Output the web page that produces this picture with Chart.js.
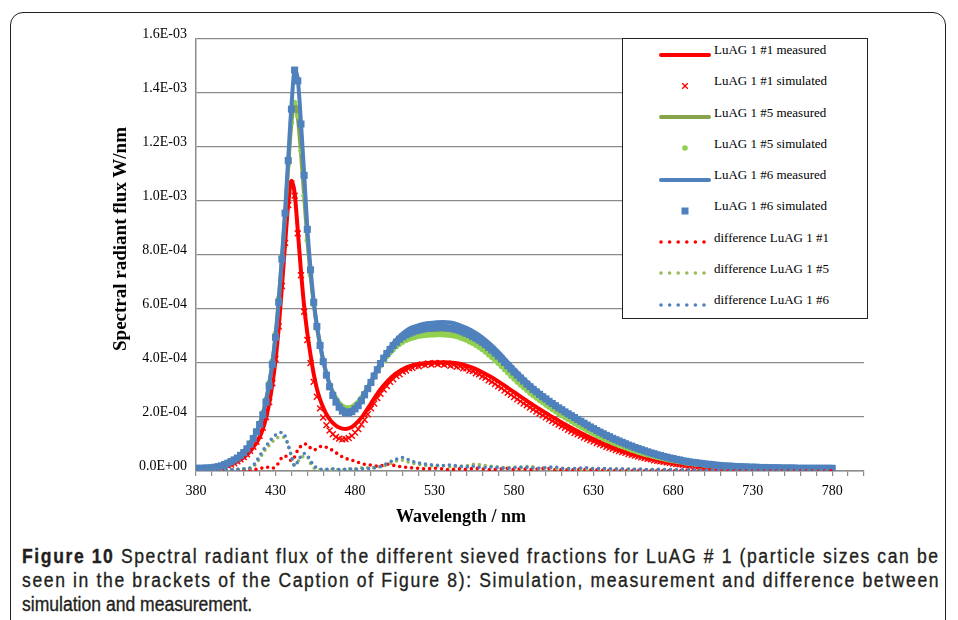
<!DOCTYPE html>
<html>
<head>
<meta charset="utf-8">
<script src="https://cdn.jsdelivr.net/npm/chart.js"></script>
<style>
  html, body { margin:0; padding:0; background:#fff; }
  body { width:958px; height:620px; position:relative; overflow:hidden; }
  #frame { position:absolute; left:10px; top:12px; width:936px; height:700px; box-sizing:border-box;
           border:1.4px solid #231f20; border-radius:13px; }
  #wrap { position:absolute; left:0; top:0; width:958px; height:540px; }
  #ytitle { position:absolute; left:120px; top:239px; transform:translate(-50%,-50%) rotate(-90deg);
            font:bold 19px "Liberation Serif", serif; color:#000; white-space:nowrap; }
  #xtitle { position:absolute; left:461px; top:516px; transform:translate(-50%,-50%);
            font:bold 18px "Liberation Serif", serif; color:#000; white-space:nowrap; }
  #legend { position:absolute; left:622px; top:38px; width:246px; height:281px; box-sizing:border-box;
            border:1.3px solid #222; background:#fff; }
  .lt { position:absolute; left:91px; font:13px "Liberation Serif", serif; color:#000; white-space:nowrap;
        transform:translateY(-50%); }
  .ls { position:absolute; left:35px; }
  #caption { position:absolute; left:22px; top:544px; width:1020px; font:19.5px "Liberation Sans", Arial, sans-serif;
             color:#231f20; -webkit-text-stroke:0.35px #231f20; transform:scaleX(0.9); transform-origin:0 0; }
  .cl { height:24px; line-height:24px; white-space:nowrap; }
  .cl span { display:inline-block; }
</style>
</head>
<body>
<div id="frame"></div>
<div id="wrap"><canvas id="c"></canvas></div>
<div id="ytitle">Spectral radiant flux W/nm</div>
<div id="xtitle">Wavelength / nm</div>
<div id="legend"></div>
<div id="caption">
  <div class="cl"><span class="fit"><b>Figure 10</b> Spectral radiant flux of the different sieved fractions for LuAG # 1 (particle sizes can be</span></div>
  <div class="cl"><span class="fit">seen in the brackets of the Caption of Figure 8): Simulation, measurement and difference between</span></div>
  <div class="cl"><span>simulation and measurement.</span></div>
</div>
<script>
// Values are spectral radiant flux in units of 1E-04 W/nm
const Y_UNIT = 1e-4;

// wavelengths (nm) for the measured curves and the differences
const wlMeasured = [380,385,390,395,400,405,410,415,
  420,422,424,426,428,430,432,434,436,438,440,442,444,446,448,450,452,454,456,458,460,462,464,466,468,470,472,474,476,478,480,
  485,490,495,500,505,510,515,520,525,530,535,540,545,550,555,560,565,570,575,580,
  585,590,595,600,605,610,615,620,625,630,635,640,645,650,655,660,665,670,675,680,
  685,690,695,700,705,710,715,720,725,730,735,740,745,750,755,760,765,770,775,780];

// wavelengths (nm) for the simulated points
const wlSimulated = [
  380,382,384,386,388,390,392,394,396,398, 400,402,404,406,408,410,412,414,416,418,
  420,422,424,426,428,430,432,434,436,438, 440,442,444,446,448,450,452,454,456,458,
  460,462,464,466,468,470,472,474,476,478, 480,482,484,486,488,490,492,494,496,498,
  500,502,504,506,508,510,512,514,516,518, 520,522,524,526,528,530,532,534,536,538,
  540,542,544,546,548,550,552,554,556,558, 560,562,564,566,568,570,572,574,576,578,
  580,582,584,586,588,590,592,594,596,598, 600,602,604,606,608,610,612,614,616,618,
  620,622,624,626,628,630,632,634,636,638, 640,642,644,646,648,650,652,654,656,658,
  660,662,664,666,668,670,672,674,676,678, 680,682,684,686,688,690,692,694,696,698,
  700,702,704,706,708,710,712,714,716,718, 720,722,724,726,728,730,732,734,736,738,
  740,742,744,746,748,750,752,754,756,758, 760,762,764,766,768,770,772,774,776,778, 780];

const luag1Measured = [0.05,0.06,0.08,0.12,0.2,0.32,0.5,0.8,
  1.25,1.55,1.95,2.5,3.2,4.1,5.3,6.8,8.4,9.9,10.75,10.3,8.9,7.4,6.1,5.1,4.3,3.6,3.05,2.65,2.35,2.1,1.92,1.78,1.68,1.61,1.57,1.56,1.58,1.63,1.72,
  2.05,2.5,2.95,3.3,3.58,3.77,3.89,3.96,4.0,4.02, 4.03,4.02,3.98,3.9,3.8,3.66,3.5,3.32,3.12,2.92,
  2.72,2.52,2.33,2.15,1.97,1.8,1.63,1.47,1.32,1.18, 1.05,0.93,0.82,0.72,0.63,0.55,0.47,0.41,0.35,0.3,
  0.26,0.22,0.19,0.16,0.14,0.12,0.1,0.09,0.08,0.08, 0.07,0.07,0.06,0.06,0.06,0.05,0.05,0.05,0.05,0.05];

const luag5Measured = [0.10,0.10,0.12,0.18,0.30,0.46,0.72,1.12,
  1.72,2.12,2.62,3.22,4.0,5.0,6.3,7.8,9.5,11.3,12.9,13.6,13.1,11.8,10.2,8.6,7.3,6.2,5.35,4.65,4.08,3.6,3.22,2.92,2.7,2.53,2.42,2.36,2.35,2.38,2.45,
  2.82,3.32,3.85,4.3,4.65,4.9,5.05,5.15,5.2,5.22, 5.22,5.19,5.11,4.99,4.83,4.63,4.39,4.11,3.81,3.51,
  3.23,2.96,2.72,2.49,2.28,2.08,1.89,1.72,1.55,1.39, 1.24,1.1,0.98,0.87,0.76,0.67,0.59,0.51,0.45,0.39,
  0.34,0.29,0.25,0.22,0.19,0.17,0.15,0.14,0.13,0.12, 0.11,0.11,0.1,0.1,0.1,0.1,0.09,0.09,0.09,0.09];

const luag6Measured = [0.10,0.10,0.12,0.18,0.30,0.45,0.70,1.10,
  1.70,2.10,2.60,3.20,4.00,5.00,6.30,7.90,9.60,11.6,13.5,14.8,14.5,12.9,11.0,9.0,7.5,6.3,5.4,4.7,4.1,3.6,3.2,2.9,2.65,2.45,2.32,2.25,2.24,2.28,2.36,
  2.75,3.3,3.9,4.4,4.8,5.1,5.3,5.4,5.47,5.5, 5.52,5.5,5.42,5.3,5.15,4.95,4.7,4.42,4.1,3.78,
  3.48,3.2,2.95,2.72,2.5,2.3,2.1,1.92,1.74,1.56, 1.4,1.25,1.12,1.0,0.88,0.78,0.68,0.6,0.52,0.45,
  0.39,0.34,0.3,0.26,0.23,0.2,0.18,0.16,0.15,0.14, 0.13,0.12,0.12,0.11,0.11,0.1,0.1,0.1,0.1,0.1];

const luag1Simulated = [
  0.05,0.05,0.06,0.06,0.07,0.08,0.09,0.11,0.13,0.16, 0.2,0.24,0.29,0.36,0.43,0.52,0.62,0.75,0.9,1.08,
  1.3,1.6,2.0,2.55,3.25,4.15,5.35,6.85,8.45,9.85, 10.65,10.2,8.8,7.25,5.9,4.85,4.0,3.3,2.75,2.32,
  1.98,1.7,1.5,1.36,1.26,1.2,1.17,1.18,1.22,1.3, 1.42,1.55,1.72,1.9,2.1,2.32,2.5,2.7,2.86,3.02,
  3.15,3.3,3.4,3.52,3.58,3.68,3.72,3.8,3.82,3.9, 3.88,3.95,3.92,3.98,3.94,4.0,3.95,3.99,3.93,3.97,
  3.9,3.93,3.86,3.88,3.8,3.8,3.72,3.7,3.62,3.58, 3.5,3.45,3.36,3.3,3.22,3.14,3.07,2.98,2.9,2.82,
  2.74,2.66,2.58,2.5,2.43,2.35,2.28,2.2,2.13,2.06, 1.99,1.92,1.85,1.79,1.72,1.66,1.6,1.53,1.47,1.41,
  1.36,1.3,1.24,1.19,1.14,1.09,1.04,0.99,0.95,0.9, 0.86,0.82,0.78,0.74,0.7,0.67,0.63,0.6,0.57,0.54,
  0.51,0.48,0.45,0.43,0.4,0.38,0.36,0.34,0.32,0.3, 0.28,0.26,0.25,0.23,0.22,0.2,0.19,0.18,0.17,0.16,
  0.15,0.14,0.13,0.12,0.12,0.11,0.1,0.1,0.09,0.09, 0.08,0.08,0.08,0.07,0.07,0.07,0.07,0.06,0.06,0.06,
  0.06,0.06,0.05,0.05,0.05,0.05,0.05,0.05,0.05,0.05, 0.05,0.05,0.05,0.05,0.04,0.04,0.04,0.04,0.04,0.04, 0.04];

const luag5Simulated = [
  0.10,0.10,0.11,0.11,0.12,0.13,0.15,0.17,0.2,0.25, 0.3,0.36,0.43,0.5,0.6,0.71,0.85,1.03,1.24,1.49,
  1.78,2.15,2.65,3.28,4.08,5.1,6.4,7.95,9.6,11.35, 12.9,13.65,13.15,11.85,10.2,8.55,7.25,6.15,5.3,4.62,
  4.05,3.58,3.2,2.9,2.67,2.5,2.39,2.33,2.32,2.36, 2.44,2.55,2.7,2.88,3.08,3.28,3.5,3.71,3.9,4.08,
  4.24,4.38,4.5,4.61,4.7,4.78,4.84,4.89,4.93,4.96, 4.99,5.01,5.03,5.04,5.05,5.05,5.06,5.06,5.05,5.04,
  5.03,5.01,4.98,4.94,4.9,4.85,4.79,4.73,4.66,4.58, 4.5,4.41,4.31,4.21,4.1,3.99,3.88,3.76,3.64,3.52,
  3.41,3.3,3.19,3.09,2.99,2.89,2.8,2.71,2.62,2.54, 2.45,2.37,2.29,2.21,2.13,2.06,1.98,1.91,1.84,1.77,
  1.7,1.63,1.57,1.5,1.44,1.38,1.32,1.26,1.2,1.15, 1.1,1.05,1.0,0.95,0.91,0.87,0.82,0.78,0.74,0.7,
  0.67,0.63,0.6,0.57,0.54,0.51,0.48,0.46,0.43,0.41, 0.39,0.37,0.35,0.33,0.31,0.29,0.28,0.26,0.25,0.24,
  0.22,0.21,0.2,0.19,0.18,0.17,0.16,0.16,0.15,0.15, 0.14,0.14,0.13,0.13,0.12,0.12,0.12,0.11,0.11,0.11,
  0.11,0.1,0.1,0.1,0.1,0.1,0.1,0.1,0.1,0.1, 0.1,0.09,0.09,0.09,0.09,0.09,0.09,0.09,0.09,0.09, 0.09];

const luag6Simulated = [
  0.10,0.10,0.10,0.11,0.11,0.12,0.14,0.16,0.19,0.24, 0.29,0.35,0.41,0.48,0.58,0.68,0.82,1.0,1.2,1.45,
  1.72,2.08,2.55,3.15,3.95,4.95,6.25,7.85,9.55,11.5, 13.4,14.85,14.45,12.85,10.95,8.95,7.45,6.25,5.35,4.65,
  4.05,3.55,3.12,2.8,2.55,2.36,2.22,2.16,2.15,2.2, 2.3,2.42,2.6,2.82,3.05,3.28,3.52,3.75,3.98,4.18,
  4.35,4.5,4.65,4.77,4.88,4.97,5.04,5.1,5.15,5.19, 5.22,5.25,5.27,5.29,5.3,5.3,5.31,5.32,5.31,5.3,
  5.29,5.27,5.24,5.2,5.15,5.1,5.05,4.98,4.92,4.85, 4.77,4.68,4.58,4.48,4.37,4.26,4.14,4.02,3.9,3.78,
  3.66,3.55,3.44,3.33,3.22,3.12,3.02,2.93,2.84,2.75, 2.67,2.58,2.5,2.42,2.34,2.27,2.19,2.12,2.05,1.98,
  1.91,1.84,1.77,1.7,1.63,1.57,1.5,1.44,1.38,1.32, 1.27,1.21,1.16,1.11,1.06,1.01,0.96,0.92,0.87,0.83,
  0.79,0.75,0.71,0.67,0.64,0.6,0.57,0.54,0.51,0.48, 0.46,0.43,0.41,0.38,0.36,0.34,0.32,0.31,0.29,0.28,
  0.26,0.25,0.24,0.22,0.21,0.2,0.19,0.18,0.18,0.17, 0.16,0.16,0.15,0.15,0.14,0.14,0.14,0.13,0.13,0.13,
  0.12,0.12,0.12,0.12,0.11,0.11,0.11,0.11,0.11,0.1, 0.1,0.1,0.1,0.1,0.1,0.1,0.1,0.1,0.1,0.1, 0.1];

const diffLuag1 = [0.01,0.01,0.02,0.02,0.03,0.04,0.05,0.06,
  0.08,0.12,0.15,0.12,0.1,0.18,0.3,0.5,0.55,0.5,0.38,0.52,0.78,0.92,1.0,0.98,0.85,0.78,0.82,0.9,0.92,0.88,0.82,0.76,0.68,0.6,0.52,0.47,0.43,0.4,0.36,
  0.26,0.22,0.17,0.25,0.2,0.15,0.12,0.1,0.08,0.1, 0.08,0.05,0.08,0.06,0.1,0.08,0.05,0.07,0.1,0.06,
  0.08,0.05,0.08,0.1,0.06,0.05,0.04,0.06,0.05,0.04, 0.04,0.03,0.03,0.03,0.03,0.02,0.02,0.02,0.02,0.02,
  0.02,0.02,0.02,0.02,0.02,0.01,0.01,0.01,0.01,0.01, 0.01,0.01,0.01,0.01,0.01,0.01,0.01,0.01,0.01,0.01];

const diffLuag5 = [0.02,0.02,0.03,0.04,0.05,0.06,0.08,0.12,
  0.45,0.65,0.82,0.95,1.08,1.18,1.25,1.26,1.2,0.95,0.55,0.22,0.35,0.48,0.55,0.52,0.28,0.12,0.06,0.04,0.03,0.04,0.05,0.04,0.06,0.05,0.04,0.06,0.08,0.07,0.08,
  0.12,0.12,0.15,0.22,0.35,0.4,0.3,0.25,0.2,0.18, 0.2,0.15,0.18,0.2,0.25,0.22,0.18,0.15,0.12,0.15,
  0.12,0.18,0.1,0.12,0.1,0.08,0.1,0.08,0.07,0.1, 0.08,0.06,0.07,0.05,0.06,0.05,0.04,0.05,0.04,0.04,
  0.03,0.03,0.03,0.03,0.02,0.02,0.02,0.02,0.02,0.02, 0.02,0.02,0.02,0.02,0.01,0.01,0.01,0.01,0.01,0.01];

const diffLuag6 = [0.02,0.02,0.03,0.05,0.05,0.06,0.08,0.15,
  0.55,0.75,0.92,1.08,1.22,1.33,1.4,1.43,1.3,0.95,0.55,0.18,0.35,0.55,0.65,0.58,0.38,0.2,0.12,0.08,0.05,0.06,0.05,0.08,0.06,0.05,0.08,0.06,0.05,0.08,0.06,
  0.08,0.1,0.15,0.28,0.42,0.5,0.38,0.3,0.25,0.22, 0.2,0.22,0.18,0.15,0.18,0.12,0.15,0.12,0.1,0.12,
  0.15,0.12,0.1,0.12,0.15,0.1,0.08,0.1,0.12,0.08, 0.1,0.08,0.07,0.08,0.06,0.07,0.05,0.06,0.05,0.05,
  0.04,0.04,0.03,0.03,0.03,0.02,0.02,0.02,0.02,0.02, 0.02,0.02,0.02,0.01,0.01,0.01,0.01,0.01,0.01,0.01];

const seriesLabels = ['LuAG 1 #1 measured','LuAG 1 #1 simulated','LuAG 1 #5 measured','LuAG 1 #5 simulated',
  'LuAG 1 #6 measured','LuAG 1 #6 simulated','difference LuAG 1 #1','difference LuAG 1 #5','difference LuAG 1 #6'];
const xTickLabels = [380,430,480,530,580,630,680,730,780];

const RED = '#ff0000', GREEN_LINE = '#86a44a', GREEN_PT = '#92d050', GREEN_DOT = '#9bbb59', BLUE = '#4f81bd';

const pts = (xs, ys) => xs.map((x, i) => ({x, y: ys[i]}));

function lineDs(label, xs, ys, color) {
  return { label, data: pts(xs, ys), borderColor: color, backgroundColor: color, borderWidth: 4,
    pointRadius: 0, cubicInterpolationMode: 'monotone', showLine: true, kind: 'line' };
}
function pointDs(label, xs, ys, color, style, radius, bw) {
  return { label, data: pts(xs, ys), borderColor: color, backgroundColor: color, showLine: false,
    pointStyle: style, pointRadius: radius, pointBorderWidth: bw, pointHoverRadius: radius, kind: 'point' };
}
function dotDs(label, xs, ys, color) {
  return { label, data: pts(xs, ys), borderColor: color, backgroundColor: color, borderWidth: 3.6,
    borderDash: [0, 6], borderCapStyle: 'round', pointRadius: 0, showLine: true,
    cubicInterpolationMode: 'monotone', kind: 'dots' };
}

const datasets = [
  lineDs(seriesLabels[0], wlMeasured, luag1Measured, RED),
  pointDs(seriesLabels[1], wlSimulated, luag1Simulated, RED, 'crossRot', 4.2, 1.4),
  lineDs(seriesLabels[2], wlMeasured, luag5Measured, GREEN_LINE),
  pointDs(seriesLabels[3], wlSimulated, luag5Simulated, GREEN_PT, 'circle', 2.8, 0),
  lineDs(seriesLabels[4], wlMeasured, luag6Measured, BLUE),
  pointDs(seriesLabels[5], wlSimulated, luag6Simulated, BLUE, 'rect', 5, 0),
  dotDs(seriesLabels[6], wlMeasured, diffLuag1, RED),
  dotDs(seriesLabels[7], wlMeasured, diffLuag5, GREEN_DOT),
  dotDs(seriesLabels[8], wlMeasured, diffLuag6, BLUE)
];
datasets.forEach((d, i) => { d.order = datasets.length - i; });

function sci(v) {
  if (Math.abs(v) < 1e-15) return '0.0E+00';
  const [m, e] = v.toExponential(1).split('e');
  const n = parseInt(e, 10);
  return m + 'E' + (n < 0 ? '-' : '+') + String(Math.abs(n)).padStart(2, '0');
}

const GRID = '#8c8c8c';
const chart = new Chart(document.getElementById('c'), {
  type: 'scatter',
  data: { datasets },
  options: {
    responsive: true, maintainAspectRatio: false, animation: false, devicePixelRatio: 1,
    layout: { padding: { left: 0, top: 39, right: 94, bottom: 0 } },
    plugins: { legend: { display: false }, tooltip: { enabled: false } },
    scales: {
      x: {
        type: 'linear', min: 380, max: 800,
        afterFit: s => { s.height = 69; },
        border: { display: true, color: GRID, width: 1.5 },
        grid: { drawOnChartArea: false, drawTicks: true, tickLength: 5, color: GRID, lineWidth: 1.2 },
        ticks: { stepSize: 10, autoSkip: false, maxRotation: 0, padding: 7, color: '#000',
          font: { family: 'Liberation Serif', size: 14 },
          callback: v => xTickLabels.includes(v) ? String(v) : '' }
      },
      y: {
        min: 0, max: 16,
        afterFit: s => { s.width = 196; },
        border: { display: true, color: GRID, width: 1.5 },
        grid: { drawTicks: false, color: GRID, lineWidth: 1.2 },
        ticks: { stepSize: 2, padding: 9, labelOffset: -5, color: '#000',
          font: { family: 'Liberation Serif', size: 14 },
          callback: v => sci(v * Y_UNIT) }
      }
    }
  }
});

// HTML legend built from the chart datasets
const legend = document.getElementById('legend');
chart.data.datasets.forEach((d, i) => {
  const ty = 11 + i * 31.25;
  const t = document.createElement('div');
  t.className = 'lt'; t.style.top = ty + 'px'; t.textContent = d.label;
  legend.appendChild(t);
  const cv = document.createElement('canvas');
  cv.width = 56; cv.height = 14; cv.className = 'ls'; cv.style.top = (ty + 4.5 - 7) + 'px';
  legend.appendChild(cv);
  const ctx = cv.getContext('2d');
  ctx.strokeStyle = d.borderColor; ctx.fillStyle = d.backgroundColor;
  if (d.kind === 'line') {
    ctx.lineWidth = 4; ctx.lineCap = 'round';
    ctx.beginPath(); ctx.moveTo(3, 7); ctx.lineTo(51, 7); ctx.stroke();
  } else if (d.kind === 'dots') {
    for (let k = 0; k < 6; k++) { ctx.beginPath(); ctx.arc(3 + k * 8.6, 7, 1.8, 0, Math.PI * 2); ctx.fill(); }
  } else {
    const cx = 27, cy = 7;
    if (d.pointStyle === 'crossRot') {
      ctx.lineWidth = 1.4; const r = 2.8;
      ctx.beginPath(); ctx.moveTo(cx - r, cy - r); ctx.lineTo(cx + r, cy + r);
      ctx.moveTo(cx - r, cy + r); ctx.lineTo(cx + r, cy - r); ctx.stroke();
    } else if (d.pointStyle === 'circle') {
      ctx.beginPath(); ctx.arc(cx, cy, 2.8, 0, Math.PI * 2); ctx.fill();
    } else {
      ctx.fillRect(cx - 3.5, cy - 3.5, 7, 7);
    }
  }
});

// caption lines 1-2 are spread to the full caption width (as in the typeset figure)
document.querySelectorAll('#caption .fit').forEach(el => {
  const target = 1020;            // width before the 0.9 horizontal scale
  const n = el.textContent.length;
  const w = el.offsetWidth;
  el.style.letterSpacing = ((target - w) / n) + 'px';
});
</script>
</body>
</html>
